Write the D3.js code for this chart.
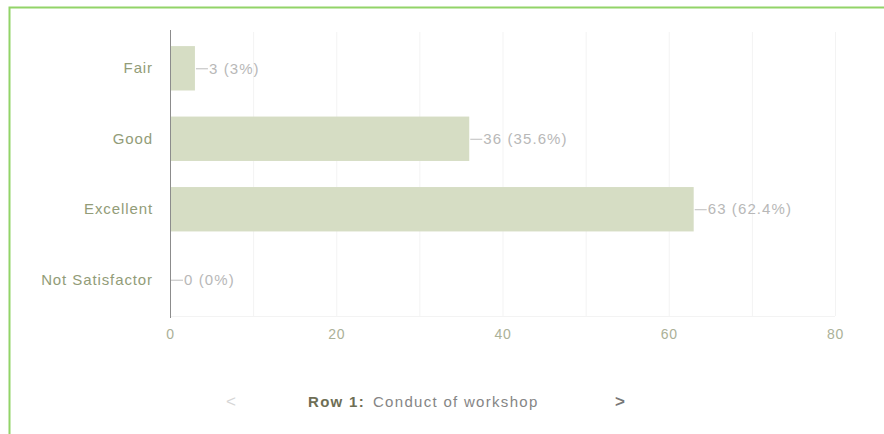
<!DOCTYPE html>
<html>
<head>
<meta charset="utf-8">
<script src="https://cdn.jsdelivr.net/npm/d3@7"></script>
<style>
  body { margin: 0; background: #fff; font-family: "Liberation Sans", Arial, sans-serif; }
  svg { display: block; }
</style>
</head>
<body>
<svg id="chart" width="884" height="434"></svg>
<script>
// survey answers for row 1
const CATEGORIES = ['Fair', 'Good', 'Excellent', 'Not Satisfactor'];
const COUNTS = [3, 36, 63, 0];
const PERCENTS = ['3%', '35.6%', '62.4%', '0%'];
const X_TICKS = [0, 20, 40, 60, 80];
const GRID_TICKS = [10, 20, 30, 40, 50, 60, 70, 80];
const ROW_LABEL = 'Row 1:';
const ROW_TITLE = 'Conduct of workshop';

const FONT = '"Liberation Sans", Arial, sans-serif';
const SVG = d3.select('#chart');

// frame
SVG.append('path')
    .attr('d', 'M9.5,434 V7.5 H884')
    .attr('fill', 'none')
    .attr('stroke', '#92d468')
    .attr('stroke-width', 2);

const LEFT = 170, RIGHT = 835, TOP = 32, BOTTOM = 316;

const X = d3.scaleLinear().domain([0, 80]).range([LEFT, RIGHT]);
const Y = d3.scaleBand().domain(CATEGORIES).range([TOP, BOTTOM]).paddingInner(0.37).paddingOuter(0.2);

// grid
SVG.append('g')
    .selectAll('line')
    .data(GRID_TICKS)
    .join('line')
    .attr('x1', d => X(d) + 0.5)
    .attr('x2', d => X(d) + 0.5)
    .attr('y1', TOP)
    .attr('y2', BOTTOM)
    .attr('stroke', '#f3f3f3');

SVG.append('line')
    .attr('x1', LEFT).attr('x2', RIGHT)
    .attr('y1', BOTTOM + 0.5).attr('y2', BOTTOM + 0.5)
    .attr('stroke', '#f3f3f3');

// bars
SVG.append('g')
    .selectAll('rect')
    .data(COUNTS)
    .join('rect')
    .attr('x', X(0))
    .attr('y', (d, i) => Y(CATEGORIES[i]))
    .attr('width', d => X(d) - X(0))
    .attr('height', Y.bandwidth())
    .attr('fill', '#d6ddc4');

// value labels with leader line
const VAL = SVG.append('g');
COUNTS.forEach((d, i) => {
    const cy = Y(CATEGORIES[i]) + Y.bandwidth() / 2;
    VAL.append('line')
        .attr('x1', X(d) + 1).attr('x2', X(d) + 13)
        .attr('y1', cy + 0.5).attr('y2', cy + 0.5)
        .attr('stroke', '#bdbdbd');
    VAL.append('text')
        .attr('x', X(d) + 14)
        .attr('y', cy)
        .attr('dy', '0.35em')
        .attr('font-size', 15)
        .attr('font-family', FONT)
        .attr('letter-spacing', 1.1)
        .attr('fill', '#b8b8b8')
        .text(`${d} (${PERCENTS[i]})`);
});

// y axis
const Y_AXIS = d3.axisLeft(Y).tickSize(0).tickPadding(17);
const Y_G = SVG.append('g').attr('transform', `translate(${LEFT},0)`).call(Y_AXIS);
Y_G.select('.domain').attr('stroke', '#8c8c8c').attr('d', `M0.5,${TOP - 2}V${BOTTOM + 2}`);
Y_G.selectAll('text')
    .attr('font-size', 15)
    .attr('letter-spacing', 0.9)
    .attr('fill', '#929c78')
    .attr('font-family', FONT);

// x axis
const X_AXIS = d3.axisBottom(X).tickValues(X_TICKS).tickSize(0).tickPadding(13);
const X_G = SVG.append('g').attr('transform', `translate(0,${BOTTOM})`).call(X_AXIS);
X_G.select('.domain').remove();
X_G.selectAll('text')
    .attr('font-size', 14)
    .attr('letter-spacing', 0.8)
    .attr('fill', '#abb198')
    .attr('font-family', FONT);

// row navigation
SVG.append('text')
    .attr('x', 231).attr('y', 407)
    .attr('text-anchor', 'middle')
    .attr('font-size', 17)
    .attr('font-family', FONT)
    .attr('fill', '#d6d6d6')
    .text('<');

const ROW = SVG.append('text')
    .attr('x', 308).attr('y', 407)
    .attr('font-size', 15)
    .attr('font-family', FONT)
    .attr('letter-spacing', 1.3);
ROW.append('tspan').attr('font-weight', 'bold').attr('fill', '#6e6e55').text(ROW_LABEL);
ROW.append('tspan').attr('dx', 8).attr('fill', '#858585').text(ROW_TITLE);

SVG.append('text')
    .attr('x', 620).attr('y', 407)
    .attr('text-anchor', 'middle')
    .attr('font-size', 17)
    .attr('font-weight', 'bold')
    .attr('font-family', FONT)
    .attr('fill', '#777')
    .text('>');
</script>
</body>
</html>
